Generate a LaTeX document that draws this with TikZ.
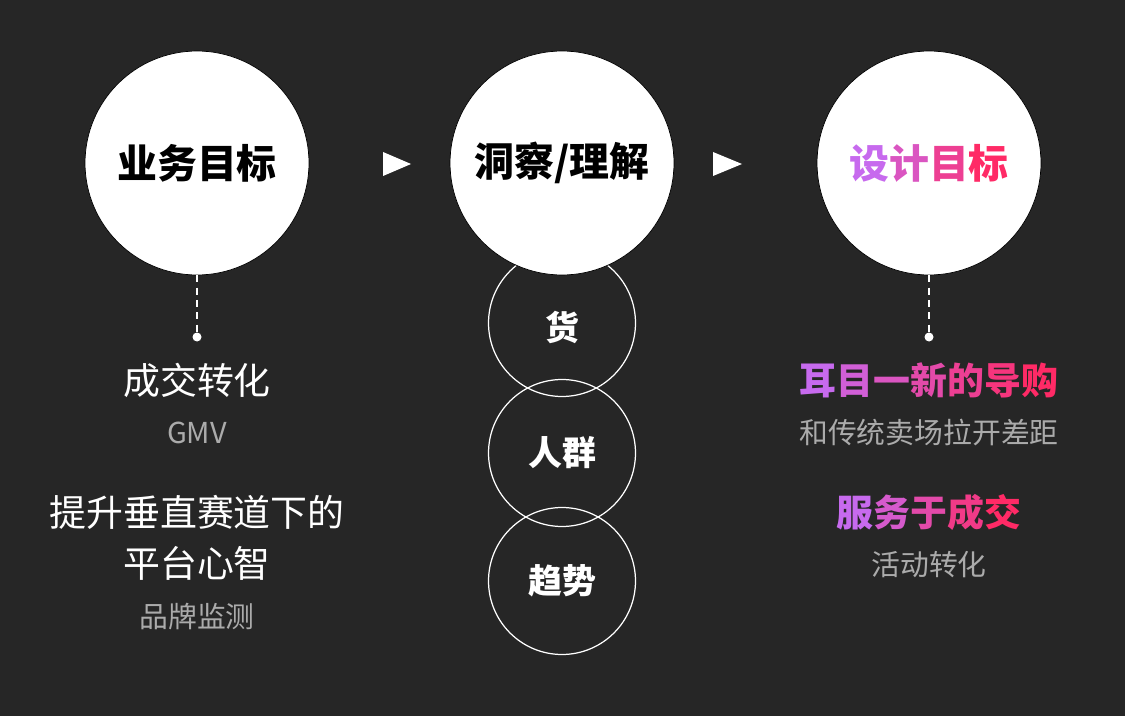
\documentclass[tikz,border=0pt]{standalone}
\usepackage{fontspec}
\usetikzlibrary{calc, positioning}
\newfontfamily\cjk{Noto Sans CJK SC}
\definecolor{bgdark}{HTML}{262626}
\definecolor{softgray}{HTML}{ABABAB}
\definecolor{violet}{HTML}{C76AEE}
\definecolor{pinkred}{HTML}{FF2A66}
% one character of the violet -> pink-red run
\newcommand{\gc}[2]{\textcolor{pinkred!#1!violet}{#2}}

\begin{document}
\begin{tikzpicture}[x=0.02cm, y=-0.02cm,
  bigdisc/.style={circle, fill=white, draw=black, line width=0.4pt, minimum size=4.48cm, inner sep=0pt},
  ringdisc/.style={circle, draw=white, line width=0.7pt, minimum size=2.94cm, inner sep=0pt},
  disctext/.style={font=\cjk\bfseries\fontsize{22.7}{26}\selectfont, text=black},
  ringtext/.style={font=\cjk\bfseries\fontsize{19.3}{22}\selectfont, text=white},
  headline/.style={font=\cjk\fontsize{21}{24}\selectfont, text=white},
  boldline/.style={font=\cjk\bfseries\fontsize{21}{24}\selectfont},
  subline/.style={font=\cjk\fontsize{16.4}{19}\selectfont, text=softgray},
  leader/.style={white, line width=0.7pt, dash pattern=on 4pt off 3pt},
  enddot/.style={circle, fill=white, minimum size=0.18cm, inner sep=0pt}]

% Background
\useasboundingbox (0,0) rectangle (1125,716);
\fill[bgdark] (0,0) rectangle (1125,716);

% ============================================================
% Middle column: three rings under the insight disc
% ============================================================
\node[ringdisc] (goods) at (562,323) {};
\node[ringdisc] (crowd) at (562,453) {};
\node[ringdisc] (trend) at (562,581) {};
\node[ringtext] at (562,327) {货};
\node[ringtext] at (crowd) {人群};
\node[ringtext] at (trend) {趋势};

% ============================================================
% Top row: three white discs with arrow heads between them
% ============================================================
\node[bigdisc] (biz) at (197,163) {};
\node[bigdisc] (insight) at (562,163) {};
\node[bigdisc] (design) at (929,163) {};
\node[disctext] at (biz) {业务目标};
\node[disctext] at (insight) {洞察/理解};
\node[disctext] at (design) {\gc{0}{设}\gc{33}{计}\gc{67}{目}\gc{100}{标}};

\fill[white] (383,152) -- (411,164) -- (383,176) -- cycle;
\fill[white] (713,152) -- (742,164) -- (713,176) -- cycle;

% Leaders from the discs down to the notes
\node[enddot] (bizdot) at (197,337) {};
\node[enddot] (designdot) at (929,337) {};
\draw[leader] (biz.south) -- (bizdot);
\draw[leader] (design.south) -- (designdot);

% ============================================================
% Left notes
% ============================================================
\node[headline] (gmvhead) at (197,380) {成交转化};
\node[subline] (gmv) at (197,433) {GMV};
\node[headline] (mindhead) at (197,512) {提升垂直赛道下的};
\node[headline] (mindtail) at (197,563) {平台心智};
\node[subline] (brand) at (197,617) {品牌监测};

% ============================================================
% Right notes
% ============================================================
\node[boldline] (freshhead) at (929,380)
  {\gc{0}{耳}\gc{17}{目}\gc{33}{一}\gc{50}{新}\gc{67}{的}\gc{83}{导}\gc{100}{购}};
\node[subline] (gap) at (929,433) {和传统卖场拉开差距};
\node[boldline] (servehead) at (929,512)
  {\gc{0}{服}\gc{25}{务}\gc{50}{于}\gc{75}{成}\gc{100}{交}};
\node[subline] (promo) at (929,565) {活动转化};

\end{tikzpicture}
\end{document}
